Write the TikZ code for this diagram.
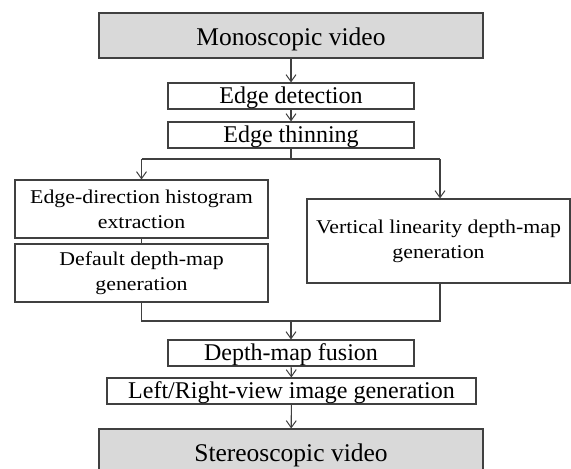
\documentclass[tikz,border=0pt]{standalone}
\usepackage{fontspec}
\setmainfont{Liberation Serif}
\newfontfamily\wideserif[FakeStretch=1.12]{Liberation Serif}
\usetikzlibrary{arrows.meta}
\definecolor{linec}{HTML}{404040}
\definecolor{boxfill}{HTML}{D9D9D9}
\tikzset{
  box/.style={draw=linec, line width=1.1pt, fill=white, inner sep=0pt, align=center, text=black},
  iobox/.style={box, fill=boxfill, font=\fontsize{25.5}{30}\selectfont, text height=19pt, text depth=0pt},
  onebox/.style={box, font=\fontsize{24}{28}\selectfont, text height=15pt, text depth=0pt},
  twobox/.style={box, font=\wideserif\fontsize{19.5}{25}\selectfont},
  conn/.style={draw=linec, line width=1.1pt},
  arr/.style={conn, -{Straight Barb[length=7pt,width=10pt,line width=1pt]}}
}
\begin{document}
\begin{tikzpicture}[x=1pt,y=-1pt]
\useasboundingbox (0,0) rectangle (571,469);
\clip (0,0) rectangle (571,469);
\node[iobox, minimum width=384pt, minimum height=45pt] (mono) at (291,35.5) {Monoscopic video};
\node[onebox, minimum width=246pt, minimum height=26pt] (det) at (291,96) {Edge detection};
\node[onebox, minimum width=246pt, minimum height=26pt] (thin) at (291,135) {Edge thinning};
\node[twobox, minimum width=253pt, minimum height=58pt] (edh) at (141.5,209) {Edge-direction histogram\\extraction};
\node[twobox, minimum width=253pt, minimum height=58pt] (def) at (141.5,273) {Default depth-map\\generation};
\node[twobox, minimum width=263pt, minimum height=84pt] (vert) at (438.5,241) {Vertical linearity depth-map\\generation};
\node[onebox, minimum width=246pt, minimum height=26pt] (fus) at (291,353) {Depth-map fusion};
\node[onebox, minimum width=369pt, minimum height=26pt] (lr) at (291.5,391) {Left/Right-view image generation};
\node[iobox, minimum width=384pt, minimum height=45pt] (st) at (291,451.5) {Stereoscopic video};

\coordinate (split) at (291,159);
\coordinate (jl) at (141.5,159);
\coordinate (jr) at (440,159);
\coordinate (ml) at (141.5,321);
\coordinate (mr) at (440,321);
\coordinate (merge) at (291,321);

\draw[arr] (mono) -- (det);
\draw[arr] (det) -- (thin);
\draw[conn] (thin) -- (split);
\draw[conn] (jl) -- (jr);
\draw[arr] (jl) -- (edh.north);
\draw[arr] (jr) -- (jr |- vert.north);
\draw[conn] (edh) -- (def);
\draw[conn] (def.south) -- (ml) -- (mr) -- (mr |- vert.south);
\draw[arr] (merge) -- (fus.north);
\draw[arr] (fus) -- (lr);
\draw[arr] (lr) -- (st);
\end{tikzpicture}
\end{document}
